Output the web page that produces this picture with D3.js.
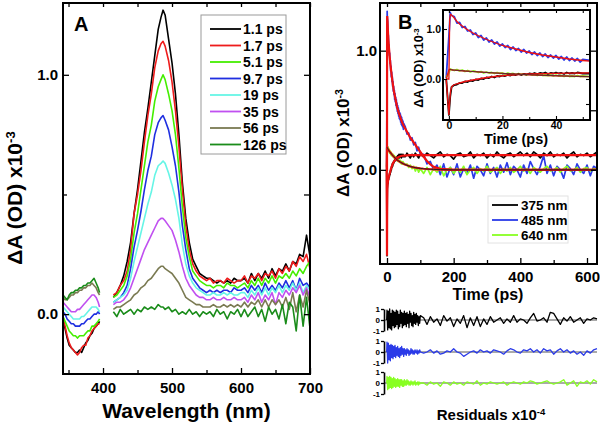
<!DOCTYPE html>
<html><head><meta charset="utf-8">
<script src="https://cdn.jsdelivr.net/npm/d3@7"></script>
<style>
body{margin:0;background:#fff}
svg{display:block}
text{font-family:Arial,'Liberation Sans',Helvetica,sans-serif;font-weight:bold;fill:#000}
</style>
</head><body>
<svg id="c" width="600" height="426"></svg>
<script>
// ---------------- Panel A data ----------------
const wlUV = [342,345,348,351,354,357,360,363,366,369,372,375,378,381,384,387,390,393,395];
const wlVis = [415,420,425,430,435,440,445,450,455,460,465,470,475,480,484,487,490,495,500,505,510,515,520,525,530,
  535,540,545,550,555,560,565,570,575,580,585,590,595,600,605,610,615,620,625,630,635,640,645,650,
  655,660,665,670,675,680,685,690,695,700];
const delays = ["1.1 ps","1.7 ps","5.1 ps","9.7 ps","19 ps","35 ps","56 ps","126 ps"];
const delayColors = ["#000000","#ee1c1c","#44ee00","#1f2fe0","#66f5e6","#c050f0","#7a7a52","#1a8c1a"];

const uv_1p1 = [-0.03,-0.06,-0.10,-0.13,-0.14,-0.15,-0.16,-0.16,-0.15,-0.16,-0.14,-0.12,-0.11,-0.09,-0.08,-0.06,-0.05,-0.04,-0.03];
const uv_1p7 = [-0.01,-0.05,-0.09,-0.12,-0.14,-0.15,-0.16,-0.17,-0.16,-0.14,-0.13,-0.13,-0.10,-0.09,-0.07,-0.06,-0.05,-0.04,-0.04];
const uv_5p1 = [-0.01,-0.03,-0.05,-0.07,-0.08,-0.09,-0.09,-0.10,-0.09,-0.09,-0.09,-0.08,-0.07,-0.07,-0.05,-0.05,-0.04,-0.03,-0.02];
const uv_9p7 = [0.01,0.00,-0.02,-0.03,-0.04,-0.04,-0.05,-0.05,-0.05,-0.04,-0.04,-0.03,-0.02,-0.02,-0.01,0.00,0.00,0.01,0.00];
const uv_19 = [0.03,0.02,0.01,0.00,-0.01,-0.02,-0.02,-0.02,-0.02,-0.01,-0.01,0.00,0.01,0.02,0.03,0.03,0.03,0.02,0.01];
const uv_35 = [0.05,0.04,0.03,0.02,0.01,0.01,0.01,0.02,0.02,0.03,0.04,0.05,0.06,0.07,0.08,0.08,0.07,0.05,0.03];
const uv_56 = [0.07,0.06,0.06,0.07,0.08,0.08,0.09,0.09,0.10,0.10,0.11,0.11,0.12,0.12,0.13,0.12,0.11,0.09,0.08];
const uv_126 = [0.08,0.07,0.06,0.08,0.09,0.09,0.10,0.10,0.11,0.11,0.12,0.12,0.13,0.13,0.14,0.15,0.13,0.11,0.09];

const vis_1p1 = [0.07,0.09,0.12,0.16,0.22,0.30,0.42,0.52,0.64,0.76,0.86,0.97,1.08,1.19,1.24,1.27,1.25,1.15,1.05,0.92,0.75,0.55,0.40,0.30,0.23,
  0.20,0.17,0.16,0.15, 0.15,0.14,0.13,0.14,0.13,0.14,0.13,0.15,0.14,0.14,
  0.15,0.13,0.17,0.14,0.17,0.15,0.18,0.15,0.19,0.16, 0.19,0.18,0.21,0.18,0.22,0.21,0.25,0.24,0.33,0.24];
const vis_1p7 = [0.08,0.09,0.12,0.14,0.18,0.27,0.42,0.50,0.60,0.72,0.83,0.92,1.03,1.10,1.13,1.14,1.12,1.06,0.97,0.85,0.70,0.52,0.37,0.27,0.21,
  0.18,0.16,0.15,0.14, 0.15,0.13,0.14,0.14,0.13,0.15,0.14,0.13,0.14,0.14,
  0.16,0.13,0.16,0.15,0.17,0.14,0.17,0.16,0.18,0.15, 0.19,0.17,0.20,0.18,0.22,0.20,0.24,0.22,0.25,0.19];
const vis_5p1 = [0.07,0.08,0.10,0.12,0.16,0.23,0.34,0.42,0.52,0.62,0.72,0.79,0.89,0.95,0.98,1.00,0.98,0.92,0.85,0.75,0.61,0.45,0.32,0.24,0.18,
  0.16,0.14,0.13,0.12, 0.12,0.11,0.12,0.12,0.11,0.13,0.12,0.12,0.11,0.12,
  0.13,0.11,0.14,0.12,0.15,0.12,0.15,0.13,0.16,0.13, 0.16,0.15,0.17,0.15,0.18,0.16,0.19,0.17,0.20,0.22];
const vis_9p7 = [0.05,0.06,0.07,0.09,0.12,0.19,0.28,0.35,0.43,0.52,0.60,0.66,0.75,0.80,0.82,0.83,0.81,0.77,0.70,0.62,0.51,0.37,0.27,0.19,0.15,
  0.13,0.11,0.10,0.09, 0.10,0.09,0.10,0.09,0.10,0.10,0.09,0.11,0.10,0.10,
  0.11,0.09,0.12,0.10,0.12,0.09,0.13,0.10,0.12,0.10, 0.13,0.11,0.14,0.11,0.14,0.10,0.15,0.12,0.13,0.11];
const vis_19 = [0.05,0.06,0.07,0.08,0.10,0.15,0.22,0.28,0.34,0.40,0.46,0.51,0.58,0.62,0.63,0.64,0.63,0.59,0.54,0.48,0.40,0.29,0.21,0.16,0.13,
  0.11,0.10,0.09,0.08, 0.08,0.09,0.08,0.08,0.09,0.08,0.09,0.08,0.08,0.09,
  0.09,0.07,0.10,0.08,0.11,0.08,0.11,0.08,0.11,0.09, 0.12,0.09,0.12,0.10,0.13,0.10,0.13,0.09,0.12,0.10];
const vis_35 = [0.04,0.05,0.05,0.06,0.08,0.11,0.15,0.19,0.23,0.27,0.30,0.33,0.36,0.39,0.40,0.40,0.39,0.37,0.35,0.31,0.26,0.20,0.15,0.12,0.10,
  0.08,0.07,0.07,0.06, 0.06,0.07,0.06,0.06,0.07,0.06,0.06,0.07,0.06,0.06,
  0.07,0.05,0.08,0.06,0.09,0.05,0.08,0.06,0.09,0.04, 0.09,0.07,0.10,0.08,0.11,0.09,0.12,0.08,0.11,0.07];
const vis_56 = [0.02,0.03,0.03,0.04,0.05,0.06,0.08,0.09,0.11,0.12,0.14,0.15,0.17,0.19,0.20,0.20,0.19,0.18,0.17,0.15,0.13,0.10,0.07,0.06,0.05,
  0.04,0.04,0.03,0.03, 0.03,0.04,0.03,0.03,0.04,0.03,0.04,0.03,0.04,0.03,
  0.05,0.03,0.05,0.04,0.06,0.03,0.06,0.03,0.06,0.04, 0.06,0.03,0.07,0.02,0.09,0.01,0.08,0.03,0.10,0.04];
const vis_126 = [0.01,-0.01,0.02,0.00,0.01,0.02,0.00,0.02,0.01,0.03,0.02,0.03,0.02,0.04,0.03,0.03,0.02,0.03,0.01,0.02,0.00,0.01,0.00,0.02,0.00,
  0.01,-0.01,0.01,0.00, 0.01,-0.01,0.02,0.00,0.01,-0.02,0.01,0.00,0.02,-0.01,
  0.02,-0.01,0.01,0.03,-0.01,0.02,-0.03,0.03,0.00,0.02, -0.02,0.04,-0.04,0.05,0.03,-0.07,0.08,-0.05,0.07,-0.06];

const uvSeries = [uv_1p1,uv_1p7,uv_5p1,uv_9p7,uv_19,uv_35,uv_56,uv_126];
const visSeries = [vis_1p1,vis_1p7,vis_5p1,vis_9p7,vis_19,vis_35,vis_56,vis_126];
const xTicksA = [400,500,600,700], xMinorA = [350,450,550,650];
const yTicksA = [0,1], yMinorA = [0.5];

// ---------------- Panel B data ----------------
const probes = ["375 nm","485 nm","640 nm"];
const probeColors = ["#000000","#2a3ae8","#88ff22"];
const timeK = [-1,0,0.5,1,2,3,4,5,6,7,8,9,10,11,12,13,14,15,16,17,18,19,20,21,22,23,24,25,26,27,28,29,30,
  31,32,33,34,35,36,37,38,39,40,41,42,43,44,45,46,47,48,49,50,55,60,65,70,75,80,85,90,95,100,
  110,120,130,140,150,160,170,180,190,200,210,220,230,240,250,260,270,280,290,300,310,320,330,340,350,
  360,370,380,390,400,410,420,430,440,450,460,470,480,490,500,510,520,530,540,550,560,570,580,590,600,610,620,630];
const k375 = [0.00,-0.72,-0.35,
  -0.16,-0.12,-0.11,-0.08,-0.08,-0.05,-0.06,-0.03,-0.04,-0.01,
  -0.02,0.01,0.00,0.03,0.02,0.05,0.03,0.06,0.05,0.07,
  0.06,0.08,0.07,0.09,0.08,0.10,0.08,0.10,0.09,0.11,
  0.10,0.12,0.10,0.12,0.11,0.13,0.10,0.12,0.11,0.13,
  0.11,0.12,0.10,0.13,0.11,0.12,0.11,0.13,0.12,0.11,
  0.11,0.14,0.12,0.10,0.13,0.11,0.14,0.12,0.10,0.13,
  0.11,0.14,0.12,0.10,0.13,0.15,0.11,0.13,0.12,0.09, 0.13,0.14,0.11,0.12,0.15,0.10,0.13,0.12,0.14,0.10,
  0.13,0.11,0.15,0.12,0.10,0.13,0.14,0.11,0.13,0.15, 0.12,0.14,0.11,0.15,0.13,0.10,0.14,0.12,0.15,0.11,
  0.13,0.12,0.14,0.10,0.13,0.15,0.11,0.13,0.12,0.14, 0.11,0.13,0.15];
const k485 = [0.02,0.85,1.33,
  1.27,1.25,1.12,1.13,1.03,1.05,0.96,0.98,0.89,0.92,
  0.83,0.87,0.78,0.82,0.74,0.78,0.70,0.74,0.66,0.70,
  0.63,0.67,0.59,0.64,0.57,0.61,0.54,0.59,0.52,0.56,
  0.49,0.54,0.47,0.52,0.45,0.50,0.43,0.48,0.42,0.47,
  0.40,0.45,0.38,0.44,0.37,0.42,0.36,0.41,0.34,0.39,
  0.36,0.30,0.31,0.25,0.27,0.21,0.23,0.16,0.19,0.13,
  0.13,0.05,0.07,0.00,0.04,-0.04,0.05,-0.06,0.02,-0.04, 0.05,-0.06,0.01,-0.03,0.04,-0.07,0.03,0.00,-0.05,0.05,
  -0.03,0.02,-0.06,0.04,-0.02,0.06,-0.04,0.03,0.00,-0.06, 0.04,-0.03,0.07,0.01,-0.04,0.03,0.12,-0.03,0.04,-0.05,
  0.03,0.00,-0.07,0.04,0.01,-0.04,0.05,0.00,-0.03,0.04, -0.05,0.03,0.01];
const k640 = [0.03,0.12,0.20, 0.19,0.17,0.19,0.16,0.18,0.15,0.17,0.14,0.16,0.15,
  0.13,0.15,0.12,0.14,0.12,0.13,0.11,0.13,0.11,0.12, 0.10,0.12,0.10,0.11,0.09,0.11,0.09,0.10,0.08,0.10,
  0.08,0.09,0.07,0.09,0.07,0.08,0.07,0.08,0.06,0.08, 0.06,0.07,0.05,0.07,0.05,0.06,0.05,0.07,0.05,0.06,
  0.04,0.05,0.02,0.04,0.01,0.03,-0.01,0.02,-0.02,0.01,
  -0.03,0.02,-0.04,0.01,-0.02,0.03,-0.05,0.00,0.02,-0.03, 0.01,-0.02,0.03,-0.04,0.00,0.02,-0.03,0.01,-0.01,0.03,
  -0.02,0.00,0.02,-0.03,0.01,-0.01,0.02,-0.02,0.00,0.03, -0.01,0.01,-0.03,0.02,0.00,-0.02,0.01,0.03,-0.01,0.00,
  0.02,-0.02,0.01,0.03,-0.01,0.00,0.02,-0.02,0.01,0.02, -0.01,0.01,0.00];

const fitT = [-1,0,0.3,0.6,1,1.5,2,3,4,5,6,8,10,12,15,18,20,25,30,35,40,45,50,60,70,80,90,100,110,120,130,140,160,200,300,400,500,630];
const fit375 = [0,-0.72,-0.45,-0.25,-0.16,-0.13,-0.115,-0.095,-0.08,-0.065,-0.05,-0.03,-0.01,0.01,0.035,0.055,0.065,0.085,0.10,0.108,0.114,0.118,0.12,0.122,
  0.123,0.123,0.123,0.123,0.123,0.123,0.123,0.123,0.123,0.123,0.123,0.123,0.123,0.123];
const fit485 = [0,0,1.20,1.29,1.28,1.25,1.22,1.15,1.10,1.06,1.02,0.95,0.89,0.84,0.77,0.71,0.67,0.60,0.53,0.48,0.44,0.40,0.37,0.32,0.27,0.23,0.19,0.15,0.11,0.075,0.045,0.025,0.008,0,0,0,0,0];
const fit640 = [0,0.18,0.19,0.19,0.185,0.18,0.178,0.174,0.17,0.165,0.16,0.153,0.146,0.139,0.128,0.118,0.112,0.098,0.085,0.074,0.065,0.057,0.05,0.038,0.028,0.021,0.016,0.012,0.009,0.007,0.005,0.004,0.002,0,0,0,0,0];

const timeR = [-1,0,2,4,6,8,10,12,14,16,18,20,22,24,26,28,30,32,34,36,38,40,42,44,46,48,50,52,54,56,58,60,
  62,64,66,68,70,72,74,76,78,80,82,84,86,88,90,92,94,96,98,100,
  110,120,130,140,150,160,170,180,190,200,210,220,230,240,250,260,270,280,290,300,310,320,330,340,350,
  360,370,380,390,400,410,420,430,440,450,460,470,480,490,500,510,520,530,540,550,560,570,580,590,600,610,620,630];
const res375 = [0,
  0.9,-0.9,0.8,-0.7,1.0,-0.8,0.6,-0.9,0.9,-0.5, 0.8,-0.7,0.7,-0.6,0.9,-0.4,0.8,-0.8,0.5,-0.6,
  0.9,-0.3,0.7,-0.7,0.6,-0.5,0.8,-0.4,0.6,-0.6, 0.7,-0.3,0.5,-0.7,0.8,-0.2,0.6,-0.5,0.4,-0.6,
  0.7,-0.3,0.5,-0.4,0.6,-0.2,0.4,-0.5,0.3,-0.3, 0.4,
  0.2,-0.4,0.3,-0.2,0.1,-0.5,0.4,-0.1,0.2,-0.6, 0.1,-0.3,0.4,-0.7,0.2,-0.5,0.3,-0.6,0.1,-0.4,
  0.3,-0.2,0.0,0.2,-0.3,0.1,-0.2,0.4,-0.2,0.1, 0.0,-0.3,0.2,0.6,-0.1,0.0,0.2,-0.2,0.7,0.6,
  0.1,-0.4,0.2,-0.1,0.3,-0.2,0.0,0.2,-0.3,0.1, 0.0,0.2,0.1];
const res485 = [0,
  0.9,-1.0,0.8,-0.7,0.6,-0.8,0.7,-0.5,0.6,-0.6, 0.5,-0.4,0.6,-0.5,0.4,-0.3,0.5,-0.4,0.3,-0.5,
  0.4,-0.3,0.5,-0.2,0.3,-0.4,0.3,-0.2,0.2,-0.3, 0.3,-0.1,0.2,-0.3,0.1,-0.2,0.3,-0.1,0.2,-0.2,
  0.1,-0.2,0.2,0.0,-0.1,0.2,-0.2,0.1,-0.1,0.2, 0.0,
  -0.1,0.0,0.2,-0.1,0.1,-0.2,-0.1,0.1,0.0,0.3, 0.0,-0.1,-0.4,-0.2,0.0,0.1,-0.1,0.2,0.0,0.1,
  -0.1,0.2,0.1,0.0,-0.2,0.1,0.3,0.2,0.0,-0.1, 0.2,0.1,0.3,0.0,0.2,-0.1,0.3,0.1,0.2,-0.2,
  0.1,0.3,0.0,0.2,-0.1,0.1,-0.2,0.0,-0.3,0.1, -0.1,0.2,0.3];
const res640 = [0,
  0.6,-0.6,0.5,-0.5,0.6,-0.4,0.5,-0.5,0.4,-0.4, 0.5,-0.3,0.4,-0.4,0.3,-0.3,0.4,-0.3,0.3,-0.4,
  0.3,-0.2,0.3,-0.3,0.2,-0.3,0.3,-0.2,0.2,-0.2, 0.3,-0.1,0.2,-0.2,0.1,-0.2,0.2,-0.1,0.1,-0.2,
  0.1,-0.1,0.2,-0.2,0.0,-0.1,0.1,-0.2,0.1,-0.1, 0.0,
  0.0,-0.2,0.1,-0.1,0.0,-0.3,0.1,0.0,-0.2,0.1, -0.1,0.0,-0.2,0.1,0.0,-0.1,0.2,-0.2,0.0,-0.1,
  0.1,0.0,-0.1,0.0,0.1,-0.2,0.0,0.1,0.0,-0.1, 0.1,0.0,0.2,0.1,-0.1,0.0,0.1,0.2,0.0,-0.1,
  0.0,0.1,0.3,-0.2,0.0,0.2,-0.3,0.1,0.0,0.2, -0.1,0.3,0.1];

const xTicksB = [0,200,400,600], xMinorB = [100,300,500];
const xTicksIn = [0,20,40], xMinorIn = [10,30,50];
const yTicksB = [0,1], yMinorB = [-0.5,0.5];
const resTicks = [-1,0,1];

// ---------------- drawing ----------------
const svg = d3.select("#c");
const fmt1 = d3.format(".1f");

function frameAxes(x, y, o) {
  const [x0, x1] = x.range(), [y1, y0] = y.range();
  const g = svg.append("g");
  const ax = (axis, tx, ty, fs, labels) => {
    const a = g.append("g").attr("transform", `translate(${tx},${ty})`).call(axis);
    a.select(".domain").remove();
    a.selectAll("line").attr("stroke", "#000").attr("stroke-width", o.tw || 1.3);
    a.selectAll("text").style("font-size", fs + "px").style("font-weight", "bold")
      .style("font-family", "Arial,'Liberation Sans',sans-serif").attr("fill", "#000");
    if (!labels) a.selectAll("text").remove();
    return a;
  };
  ax(d3.axisBottom(x).tickValues(o.xMaj).tickSize(-o.maj).tickPadding(o.xPad).tickFormat(o.xFmt), 0, y1, o.fs, true);
  ax(d3.axisBottom(x).tickValues(o.xMin).tickSize(-o.min), 0, y1, o.fs, false);
  ax(d3.axisTop(x).tickValues(o.xMaj.concat(o.xMin)).tickSize(-o.min), 0, y0, o.fs, false);
  ax(d3.axisLeft(y).tickValues(o.yMaj).tickSize(-o.maj).tickPadding(o.yPad).tickFormat(fmt1), x0, 0, o.fs, true);
  ax(d3.axisLeft(y).tickValues(o.yMin).tickSize(-o.min), x0, 0, o.fs, false);
  ax(d3.axisRight(y).tickValues(o.yMaj.concat(o.yMin)).tickSize(-o.maj), x1, 0, o.fs, false);
  g.append("rect").attr("x", x0).attr("y", y0).attr("width", x1 - x0).attr("height", y1 - y0)
    .attr("fill", "none").attr("stroke", "#000").attr("stroke-width", o.lw || 2);
  return g;
}

function yLabel(cx, cy, fs, sup) {
  const t = svg.append("text").attr("transform", `translate(${cx},${cy}) rotate(-90)`)
    .attr("text-anchor", "middle").attr("dy", "0.35em").style("font-size", fs + "px");
  t.append("tspan").text("ΔA (OD) x10");
  t.append("tspan").attr("dy", "-0.55em").style("font-size", (fs * 0.62) + "px").text(sup);
}

function clip(id, x0, y0, w, h) {
  svg.append("clipPath").attr("id", id).append("rect").attr("x", x0).attr("y", y0).attr("width", w).attr("height", h);
}

// ===== Panel A =====
const xA = d3.scaleLinear().domain([342, 700]).range([63, 310]);
const yA = d3.scaleLinear().domain([-0.25, 1.3]).range([374, 3]);
clip("clipA", 63, 3, 247, 371);
const lineA = d3.line().x(d => xA(d[0])).y(d => yA(d[1]));
const gA = svg.append("g").attr("clip-path", "url(#clipA)");
delays.forEach((d, i) => {
  [[wlUV, uvSeries[i]], [wlVis, visSeries[i]]].forEach(([w, v]) => {
    gA.append("path").datum(d3.zip(w, v)).attr("d", lineA)
      .attr("fill", "none").attr("stroke", delayColors[i]).attr("stroke-width", 1.6).attr("stroke-linejoin", "round");
  });
});
frameAxes(xA, yA, {xMaj: xTicksA, xMin: xMinorA, yMaj: yTicksA, yMin: yMinorA, maj: 6, min: 4, fs: 15, xPad: 8, yPad: 5, xFmt: d3.format("d"), lw: 2});
svg.append("text").attr("x", 74).attr("y", 31).style("font-size", "20px").text("A");
svg.append("text").attr("x", 186.5).attr("y", 418).attr("text-anchor", "middle").style("font-size", "21px").text("Wavelength (nm)");
yLabel(15, 198, 21, "-3");

// legend A
const legA = svg.append("g");
legA.append("rect").attr("x", 201).attr("y", 15).attr("width", 85).attr("height", 139)
  .attr("fill", "#fff").attr("stroke", "#9a9a9a").attr("stroke-width", 1);
delays.forEach((d, i) => {
  const yy = 29 + i * 16.5;
  legA.append("line").attr("x1", 210).attr("x2", 241).attr("y1", yy).attr("y2", yy)
    .attr("stroke", delayColors[i]).attr("stroke-width", 1.8);
  legA.append("text").attr("x", 243).attr("y", yy + 5).style("font-size", "14px").text(d);
});

// ===== Panel B main =====
const xB = d3.scaleLinear().domain([-21, 630]).range([380, 597]);
const yB = d3.scaleLinear().domain([-0.79, 1.40]).range([264, 3]);
clip("clipB", 380, 3, 217, 261);
const lineB = d3.line().x(d => xB(d[0])).y(d => yB(d[1]));
const gB = svg.append("g").attr("clip-path", "url(#clipB)");
const kData = [k375, k485, k640], fits = [fit375, fit485, fit640];
[1, 2, 0].forEach(i => {
  gB.append("path").datum(d3.zip(timeK, kData[i])).attr("d", lineB)
    .attr("fill", "none").attr("stroke", probeColors[i]).attr("stroke-width", 1.7).attr("stroke-linejoin", "round");
});
[0, 1, 2].forEach(i => {
  gB.append("path").datum(d3.zip(fitT, fits[i])).attr("d", lineB)
    .attr("fill", "none").attr("stroke", "#ee1111").attr("stroke-width", 2.2);
});
gB.append("path").datum(d3.zip(fitT, fit640).filter(d => d[0] > 0)).attr("d", lineB)
  .attr("fill", "none").attr("stroke", "#222").attr("stroke-width", 1);
frameAxes(xB, yB, {xMaj: xTicksB, xMin: xMinorB, yMaj: yTicksB, yMin: yMinorB, maj: 6, min: 4, fs: 15, xPad: 7, yPad: 3, xFmt: d3.format("d"), lw: 2});
svg.append("text").attr("x", 398).attr("y", 29).style("font-size", "20px").text("B");
svg.append("text").attr("x", 488).attr("y", 300).attr("text-anchor", "middle").style("font-size", "16px").text("Time (ps)");
yLabel(343, 143, 17, "-3");

// legend B
const legB = svg.append("g");
legB.append("rect").attr("x", 488).attr("y", 196).attr("width", 80).attr("height", 47)
  .attr("fill", "#fff").attr("stroke", "#e2e2e2").attr("stroke-width", 1);
probes.forEach((p, i) => {
  const yy = 205 + i * 15;
  legB.append("line").attr("x1", 492).attr("x2", 518).attr("y1", yy).attr("y2", yy)
    .attr("stroke", probeColors[i]).attr("stroke-width", 1.8);
  legB.append("text").attr("x", 521).attr("y", yy + 5).style("font-size", "13.5px").text(p);
});

// ===== Inset =====
const xI = d3.scaleLinear().domain([-2.2, 52.7]).range([443, 590]);
const yI = d3.scaleLinear().domain([-0.82, 1.38]).range([120, 10]);
svg.append("rect").attr("x", 443).attr("y", 10).attr("width", 147).attr("height", 110).attr("fill", "#fff");
clip("clipI", 443, 10, 147, 110);
const lineI = d3.line().x(d => xI(d[0])).y(d => yI(d[1]));
const gI = svg.append("g").attr("clip-path", "url(#clipI)");
[1, 2, 0].forEach(i => {
  gI.append("path").datum(d3.zip(timeK, kData[i]).filter(d => d[0] <= 56)).attr("d", lineI)
    .attr("fill", "none").attr("stroke", probeColors[i]).attr("stroke-width", 1.8).attr("stroke-linejoin", "round");
});
[0, 1, 2].forEach(i => {
  gI.append("path").datum(d3.zip(fitT, fits[i]).filter(d => d[0] <= 60)).attr("d", lineI)
    .attr("fill", "none").attr("stroke", "#ee1111").attr("stroke-width", 1.3);
});
gI.append("path").datum(d3.zip(fitT, fit640).filter(d => d[0] > 0 && d[0] <= 60)).attr("d", lineI)
  .attr("fill", "none").attr("stroke", "#333").attr("stroke-width", 0.8);
frameAxes(xI, yI, {xMaj: xTicksIn, xMin: xMinorIn, yMaj: yTicksB, yMin: yMinorB, maj: 4, min: 3, fs: 10.5, xPad: 2, yPad: 2, xFmt: d3.format("d"), lw: 2, tw: 1.1});
svg.append("text").attr("x", 516).attr("y", 144).attr("text-anchor", "middle").style("font-size", "14.5px").text("Time (ps)");
yLabel(419, 68, 12.5, "-3");

// ===== Residuals =====
const resData = [res375, res485, res640];
const resCenters = [320, 352, 383];
resData.forEach((r, i) => {
  const c = resCenters[i];
  const yR = d3.scaleLinear().domain([-1, 1]).range([c + 11, c - 11]);
  svg.append("line").attr("x1", 384).attr("x2", 597).attr("y1", yR(0)).attr("y2", yR(0))
    .attr("stroke", "#555").attr("stroke-width", 1);
  const lineR = d3.line().x(d => xB(d[0])).y(d => yR(Math.max(-1.1, Math.min(1.1, d[1]))));
  svg.append("path").datum(d3.zip(timeR, r)).attr("d", lineR)
    .attr("fill", "none").attr("stroke", probeColors[i]).attr("stroke-width", 1.3).attr("stroke-linejoin", "round");
  const a = svg.append("g").attr("transform", "translate(384,0)")
    .call(d3.axisLeft(yR).tickValues(resTicks).tickSize(3).tickSizeOuter(0).tickPadding(1).tickFormat(d => String(d)));
  a.select(".domain").attr("stroke", "#000").attr("stroke-width", 1.6);
  a.selectAll("line").attr("stroke", "#000").attr("stroke-width", 1.3);
  a.selectAll("text").style("font-size", "8px").style("font-weight", "bold").attr("fill", "#000");
});
const rt = svg.append("text").attr("x", 491).attr("y", 420).attr("text-anchor", "middle").style("font-size", "15px");
rt.append("tspan").text("Residuals x10");
rt.append("tspan").attr("dy", "-0.55em").style("font-size", "9.5px").text("-4");
</script>
</body></html>
